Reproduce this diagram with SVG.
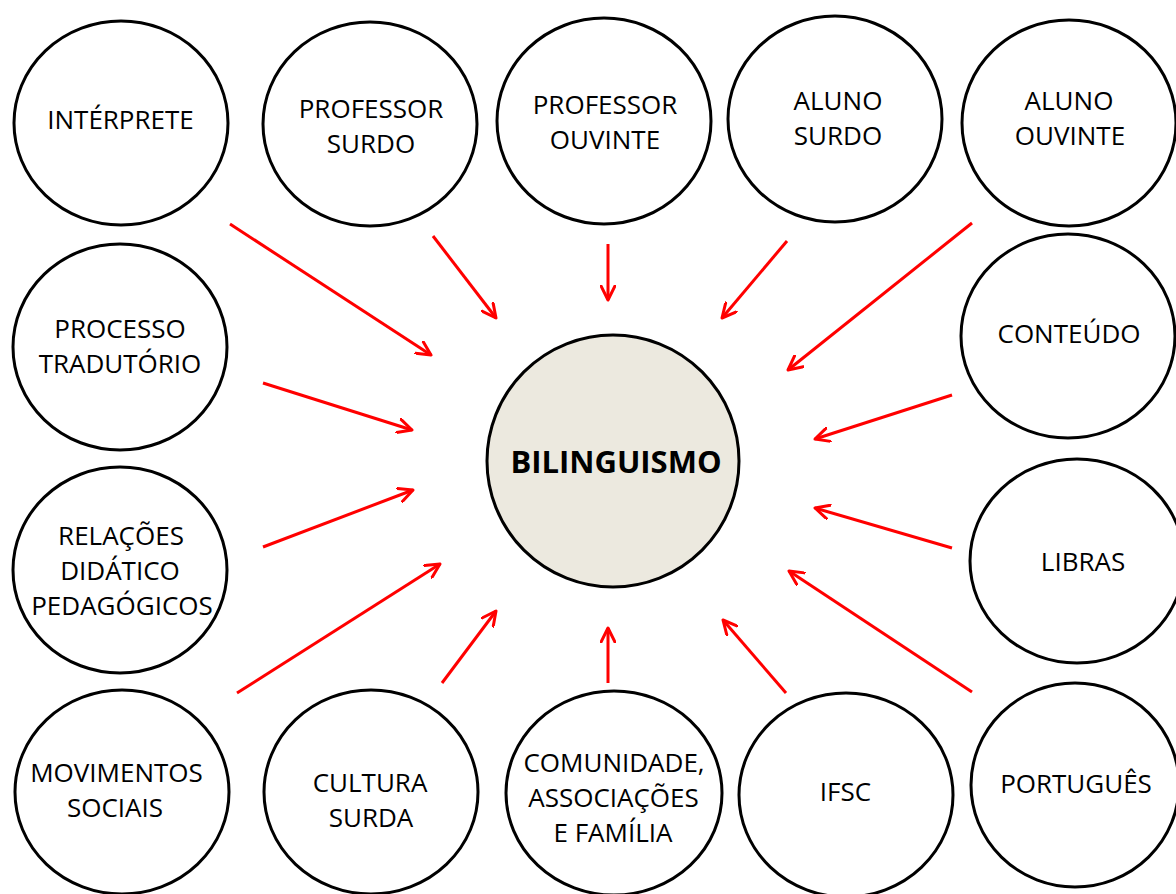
<svg xmlns="http://www.w3.org/2000/svg" width="1176" height="894" viewBox="0 0 1176 894">
  <defs>
    <style>
      .node ellipse { fill: #ffffff; stroke: #000000; stroke-width: 3; }
      .node text { font-family: "Open Sans", "DejaVu Sans", sans-serif; font-size: 26px; fill: #000000; text-anchor: middle; }
      #n-center ellipse { fill: #ECE9DF; }
      #n-center text { font-weight: bold; font-size: 31px; }
      .conn line { stroke: #ff0000; stroke-width: 3; fill: none; }
    </style>
    <marker id="arrow" markerUnits="userSpaceOnUse" viewBox="0 0 17 16" markerWidth="17" markerHeight="16" refX="15" refY="8" orient="auto">
      <path d="M1,1 L15,8 L1,15" fill="none" stroke="#ff0000" stroke-width="3" stroke-linejoin="round" stroke-linecap="round"/>
    </marker>
  </defs>
  <rect x="0" y="0" width="1176" height="894" fill="#ffffff"/>

  <g id="connectors" class="conn">
    <line x1="230" y1="224" x2="431" y2="355" marker-end="url(#arrow)"/>
    <line x1="433" y1="236" x2="496" y2="318" marker-end="url(#arrow)"/>
    <line x1="608" y1="244" x2="608" y2="300" marker-end="url(#arrow)"/>
    <line x1="787" y1="241" x2="722" y2="318" marker-end="url(#arrow)"/>
    <line x1="972" y1="223" x2="788" y2="370" marker-end="url(#arrow)"/>
    <line x1="263" y1="383" x2="412" y2="430" marker-end="url(#arrow)"/>
    <line x1="952" y1="395" x2="815" y2="439" marker-end="url(#arrow)"/>
    <line x1="263" y1="547" x2="413" y2="490" marker-end="url(#arrow)"/>
    <line x1="952" y1="548" x2="815" y2="508" marker-end="url(#arrow)"/>
    <line x1="237" y1="693" x2="440" y2="564" marker-end="url(#arrow)"/>
    <line x1="442" y1="683" x2="496" y2="611" marker-end="url(#arrow)"/>
    <line x1="608" y1="683" x2="608" y2="628" marker-end="url(#arrow)"/>
    <line x1="786" y1="693" x2="723" y2="620" marker-end="url(#arrow)"/>
    <line x1="972" y1="692" x2="789" y2="571" marker-end="url(#arrow)"/>
  </g>

  <g id="n-center" class="node">
    <ellipse cx="613" cy="461" rx="126" ry="126"/>
    <text x="616" y="473">BILINGUISMO</text>
  </g>

  <g id="n-interprete" class="node">
    <ellipse cx="121" cy="123" rx="107" ry="102"/>
    <text x="120.5" y="129">INTÉRPRETE</text>
  </g>
  <g id="n-professor-surdo" class="node">
    <ellipse cx="370" cy="124" rx="107" ry="102"/>
    <text x="371" y="118">PROFESSOR</text>
    <text x="371" y="153">SURDO</text>
  </g>
  <g id="n-professor-ouvinte" class="node">
    <ellipse cx="604" cy="121" rx="107" ry="103"/>
    <text x="605" y="114">PROFESSOR</text>
    <text x="605" y="149">OUVINTE</text>
  </g>
  <g id="n-aluno-surdo" class="node">
    <ellipse cx="835" cy="119" rx="107" ry="103"/>
    <text x="838" y="110">ALUNO</text>
    <text x="838" y="145">SURDO</text>
  </g>
  <g id="n-aluno-ouvinte" class="node">
    <ellipse cx="1069" cy="123" rx="107" ry="103"/>
    <text x="1069" y="110">ALUNO</text>
    <text x="1070" y="145">OUVINTE</text>
  </g>

  <g id="n-processo" class="node">
    <ellipse cx="120" cy="347" rx="107" ry="103"/>
    <text x="120" y="338">PROCESSO</text>
    <text x="120" y="373">TRADUTÓRIO</text>
  </g>
  <g id="n-conteudo" class="node">
    <ellipse cx="1068" cy="336" rx="107" ry="102"/>
    <text x="1069" y="343">CONTEÚDO</text>
  </g>

  <g id="n-relacoes" class="node">
    <ellipse cx="120" cy="570" rx="107" ry="103"/>
    <text x="121" y="545">RELAÇÕES</text>
    <text x="120" y="580">DIDÁTICO</text>
    <text x="122" y="615">PEDAGÓGICOS</text>
  </g>
  <g id="n-libras" class="node">
    <ellipse cx="1077" cy="561" rx="107" ry="102"/>
    <text x="1083" y="571">LIBRAS</text>
  </g>

  <g id="n-movimentos" class="node">
    <ellipse cx="122" cy="792" rx="107" ry="102"/>
    <text x="116.5" y="782">MOVIMENTOS</text>
    <text x="115" y="817">SOCIAIS</text>
  </g>
  <g id="n-cultura" class="node">
    <ellipse cx="371" cy="792" rx="107" ry="102"/>
    <text x="370" y="792">CULTURA</text>
    <text x="371" y="827">SURDA</text>
  </g>
  <g id="n-comunidade" class="node">
    <ellipse cx="614" cy="793" rx="108" ry="102"/>
    <text x="614" y="772">COMUNIDADE,</text>
    <text x="613.5" y="807">ASSOCIAÇÕES</text>
    <text x="613" y="842">E FAMÍLIA</text>
  </g>
  <g id="n-ifsc" class="node">
    <ellipse cx="846" cy="795" rx="107" ry="102"/>
    <text x="845.5" y="801">IFSC</text>
  </g>
  <g id="n-portugues" class="node">
    <ellipse cx="1075" cy="785" rx="104" ry="102"/>
    <text x="1076" y="793">PORTUGUÊS</text>
  </g>
</svg>
